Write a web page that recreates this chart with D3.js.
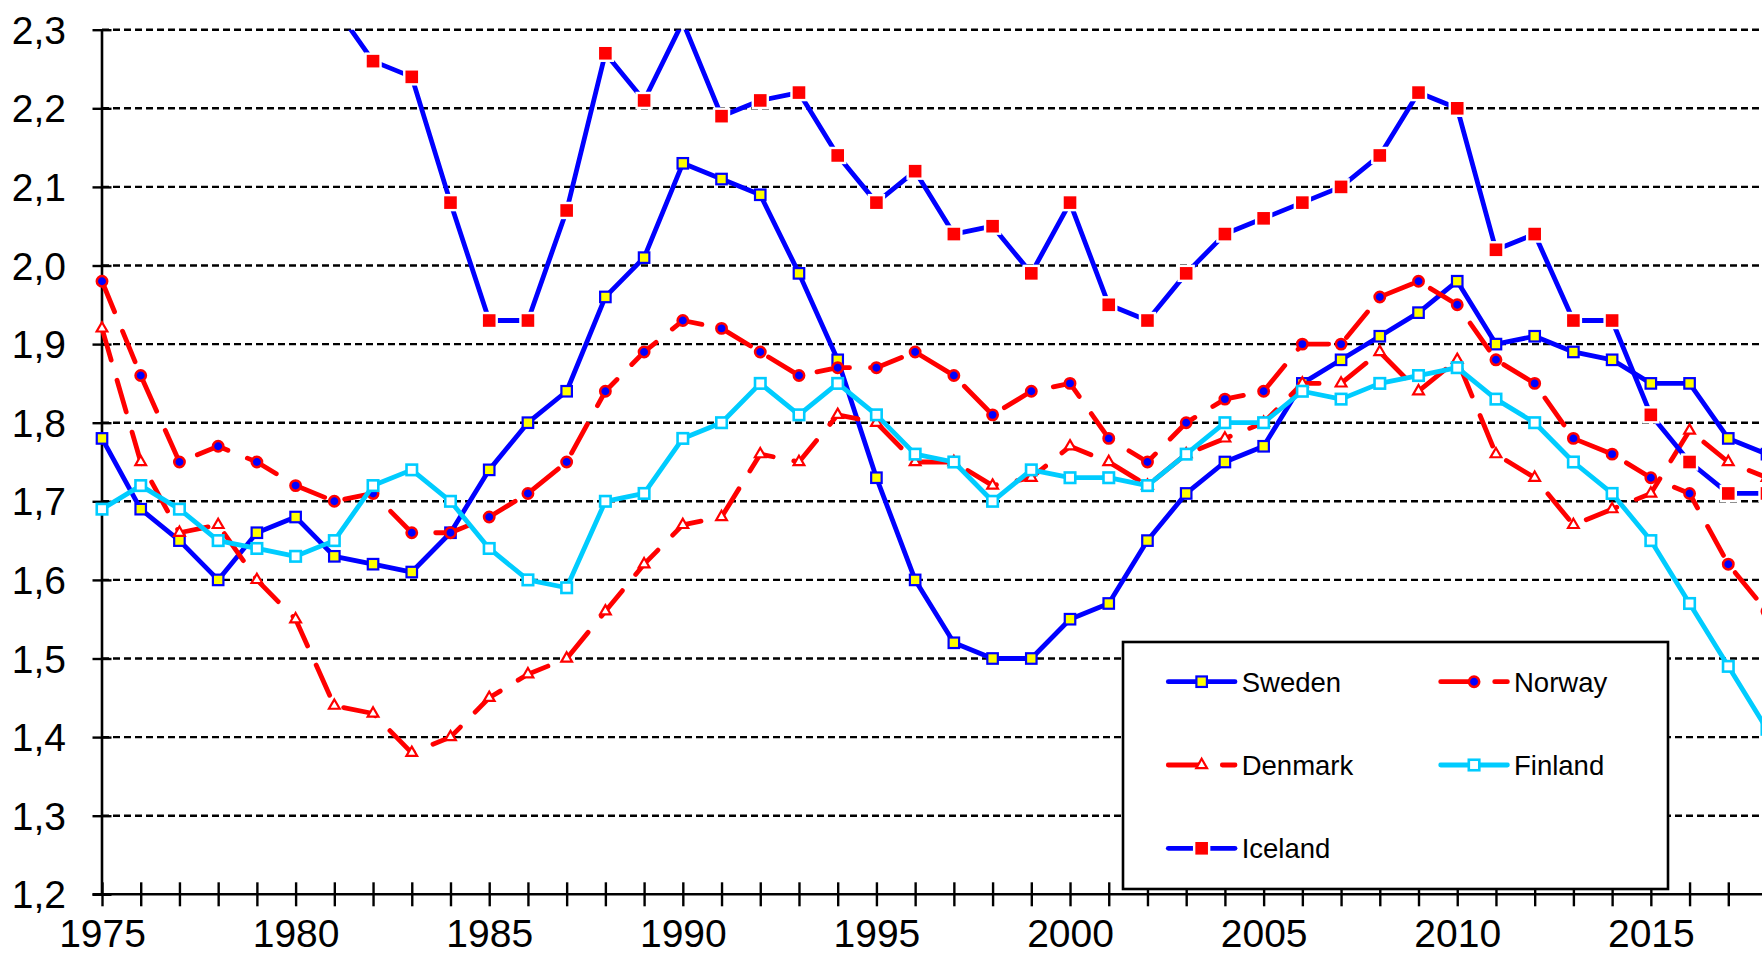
<!DOCTYPE html>
<html>
<head>
<meta charset="utf-8">
<script src="https://cdn.jsdelivr.net/npm/d3@7/dist/d3.min.js"></script>
<style>
  html, body { margin: 0; padding: 0; background: #fff; }
  svg { display: block; }
  text { font-family: "Liberation Sans", Arial, sans-serif; fill: #000; }
</style>
</head>
<body>
<svg id="chart" width="1762" height="958"></svg>
<script>
// ---- data (total fertility rate) ----
const years = d3.range(1975, 2019);
const sweden  = [1.78,1.69,1.65,1.60,1.66,1.68,1.63,1.62,1.61,1.66,1.74,1.80,1.84,1.96,2.01,2.13,2.11,2.09,1.99,1.88,1.73,1.60,1.52,1.50,1.50,1.55,1.57,1.65,1.71,1.75,1.77,1.85,1.88,1.91,1.94,1.98,1.90,1.91,1.89,1.88,1.85,1.85,1.78,1.76];
const norway  = [1.98,1.86,1.75,1.77,1.75,1.72,1.70,1.71,1.66,1.66,1.68,1.71,1.75,1.84,1.89,1.93,1.92,1.89,1.86,1.87,1.87,1.89,1.86,1.81,1.84,1.85,1.78,1.75,1.80,1.83,1.84,1.90,1.90,1.96,1.98,1.95,1.88,1.85,1.78,1.76,1.73,1.71,1.62,1.56];
const denmark = [1.92,1.75,1.66,1.67,1.60,1.55,1.44,1.43,1.38,1.40,1.45,1.48,1.50,1.56,1.62,1.67,1.68,1.76,1.75,1.81,1.80,1.75,1.75,1.72,1.73,1.77,1.75,1.72,1.76,1.78,1.80,1.85,1.85,1.89,1.84,1.88,1.76,1.73,1.67,1.69,1.71,1.79,1.75,1.73];
const finland = [1.69,1.72,1.69,1.65,1.64,1.63,1.65,1.72,1.74,1.70,1.64,1.60,1.59,1.70,1.71,1.78,1.80,1.85,1.81,1.85,1.81,1.76,1.75,1.70,1.74,1.73,1.73,1.72,1.76,1.80,1.80,1.84,1.83,1.85,1.86,1.87,1.83,1.80,1.75,1.71,1.65,1.57,1.49,1.41];
const iceland = [null,null,null,null,null,null,2.33,2.26,2.24,2.08,1.93,1.93,2.07,2.27,2.21,2.31,2.19,2.21,2.22,2.14,2.08,2.12,2.04,2.05,1.99,2.08,1.95,1.93,1.99,2.04,2.06,2.08,2.10,2.14,2.22,2.20,2.02,2.04,1.93,1.93,1.81,1.75,1.71,1.71];
const yTickValues = [1.2,1.3,1.4,1.5,1.6,1.7,1.8,1.9,2.0,2.1,2.2,2.3];
const xLabelYears = [1975,1980,1985,1990,1995,2000,2005,2010,2015];
const seriesNames = ["Sweden","Norway","Denmark","Finland","Iceland"];

// ---- styles ----
const styles = {
  Sweden:  {line:"#0000FF", dash:null,    marker:"square",   fill:"#FFFF00", stroke:"#0000FF", size:10.5, sw:2.2},
  Norway:  {line:"#FF0000", dash:"33,21", marker:"circle",   fill:"#0000FF", stroke:"#FF0000", size:10.4, sw:2.5},
  Denmark: {line:"#FF0000", dash:"33,21", marker:"triangle", fill:"#FFFFFF", stroke:"#FF0000", size:10, sw:2.2},
  Finland: {line:"#00CCFF", dash:null,    marker:"square",   fill:"#FFFFFF", stroke:"#00CCFF", size:10.5, sw:2.6},
  Iceland: {line:"#0000FF", dash:null,    marker:"square",   fill:"#FF0000", stroke:"#FFFFFF", size:15, sw:2.4}
};
const dataByName = {Sweden:sweden, Norway:norway, Denmark:denmark, Finland:finland, Iceland:iceland};

const svg = d3.select("#chart");
const W = 1762, H = 958;
const x = d3.scaleLinear().domain([1975, 2018]).range([102, 1767]);
const y = d3.scaleLinear().domain([1.2, 2.3]).range([894.3, 29.7]);
const fmt = d3.formatLocale({decimal: ",", thousands: " ", grouping: [3], currency: ["", ""]}).format(".1f");

svg.append("rect").attr("width", W).attr("height", H).attr("fill", "#fff");

svg.append("defs").append("clipPath").attr("id", "plotclip")
  .append("rect").attr("x", 0).attr("y", y(2.3)).attr("width", W).attr("height", H - y(2.3));

// gridlines
svg.append("g").selectAll("line").data(yTickValues.filter(v => v > 1.2)).join("line")
  .attr("x1", x(1975)).attr("x2", W)
  .attr("y1", d => y(d)).attr("y2", d => y(d))
  .attr("stroke", "#000").attr("stroke-width", 2.4).attr("stroke-dasharray", "7,4");

// y axis
const yAxis = svg.append("g").attr("transform", `translate(${x(1975)},0)`)
  .call(d3.axisLeft(y).tickValues(yTickValues).tickSize(9.5).tickFormat(fmt));
yAxis.select(".domain").remove();
yAxis.selectAll(".tick line").attr("x1", -9.5).attr("x2", 9.5).attr("stroke", "#000").attr("stroke-width", 2.4);
yAxis.selectAll(".tick text").attr("x", -36).attr("dy", null).attr("y", 13.5)
  .attr("font-size", 39).attr("font-family", "Liberation Sans, Arial, sans-serif").attr("fill", "#000");
svg.append("line").attr("x1", x(1975)).attr("x2", x(1975)).attr("y1", y(2.3)).attr("y2", y(1.2))
  .attr("stroke", "#000").attr("stroke-width", 2.6);

// x axis
const xAxis = svg.append("g").attr("transform", `translate(0,${y(1.2)})`)
  .call(d3.axisBottom(x).tickValues(d3.range(1975, 2018)).tickSize(12)
    .tickFormat(d => xLabelYears.includes(d) ? String(d) : ""));
xAxis.select(".domain").remove();
xAxis.selectAll(".tick line").attr("y1", -12).attr("y2", 12).attr("stroke", "#000").attr("stroke-width", 2.4);
xAxis.selectAll(".tick text").attr("dy", null).attr("y", 52.5)
  .attr("font-size", 39).attr("font-family", "Liberation Sans, Arial, sans-serif").attr("fill", "#000");
svg.append("line").attr("x1", 92.5).attr("x2", W).attr("y1", y(1.2)).attr("y2", y(1.2))
  .attr("stroke", "#000").attr("stroke-width", 2.6);

// marker drawing
function drawMarker(sel, st) {
  if (st.marker === "square") {
    sel.append("rect").attr("x", -st.size/2).attr("y", -st.size/2)
      .attr("width", st.size).attr("height", st.size)
      .attr("fill", st.fill).attr("stroke", st.stroke).attr("stroke-width", st.sw);
  } else if (st.marker === "circle") {
    sel.append("circle").attr("r", st.size/2)
      .attr("fill", st.fill).attr("stroke", st.stroke).attr("stroke-width", st.sw);
  } else {
    sel.append("path").attr("d", d3.symbol(d3.symbolTriangle, 50)())
      .attr("fill", st.fill).attr("stroke", st.stroke).attr("stroke-width", st.sw);
  }
}

const plot = svg.append("g").attr("clip-path", "url(#plotclip)");
const lineGen = d3.line().defined(d => d.v != null).x(d => x(d.year)).y(d => y(d.v));

seriesNames.forEach(name => {
  const st = styles[name];
  const pts = years.map((yr, i) => ({year: yr, v: dataByName[name][i]}));
  const g = plot.append("g");
  g.append("path").datum(pts).attr("d", lineGen)
    .attr("fill", "none").attr("stroke", st.line).attr("stroke-width", 4.8)
    .attr("stroke-linejoin", "round").attr("stroke-linecap", "round")
    .attr("stroke-dasharray", st.dash);
  g.selectAll("g.m").data(pts.filter(d => d.v != null && d.v <= 2.3)).join("g")
    .attr("class", "m")
    .attr("transform", d => `translate(${x(d.year)},${y(d.v)})`)
    .each(function() { drawMarker(d3.select(this), st); });
});

// legend
const legend = svg.append("g");
legend.append("rect").attr("x", 1123).attr("y", 642).attr("width", 545).attr("height", 247)
  .attr("fill", "#fff").attr("stroke", "#000").attr("stroke-width", 2.6);
const legPos = {
  Sweden: [0, 0], Norway: [1, 0], Denmark: [0, 1], Finland: [1, 1], Iceland: [0, 2]
};
const colLineX = [1168.3, 1440.7], colTextX = [1241.7, 1514], rowY = [681.7, 765, 848.3];
seriesNames.forEach(name => {
  const st = styles[name];
  const [c, r] = legPos[name];
  const x0 = colLineX[c], x1 = x0 + 66.7, yy = rowY[r];
  legend.append("line").attr("x1", x0).attr("x2", x1).attr("y1", yy).attr("y2", yy)
    .attr("stroke", st.line).attr("stroke-width", 4.8).attr("stroke-linecap", "round")
    .attr("stroke-dasharray", st.dash);
  const mg = legend.append("g").attr("transform", `translate(${(x0 + x1) / 2},${yy})`);
  drawMarker(mg, st);
  legend.append("text").attr("x", colTextX[c]).attr("y", yy + 10)
    .attr("font-size", 27.5).text(name);
});
</script>
</body>
</html>
